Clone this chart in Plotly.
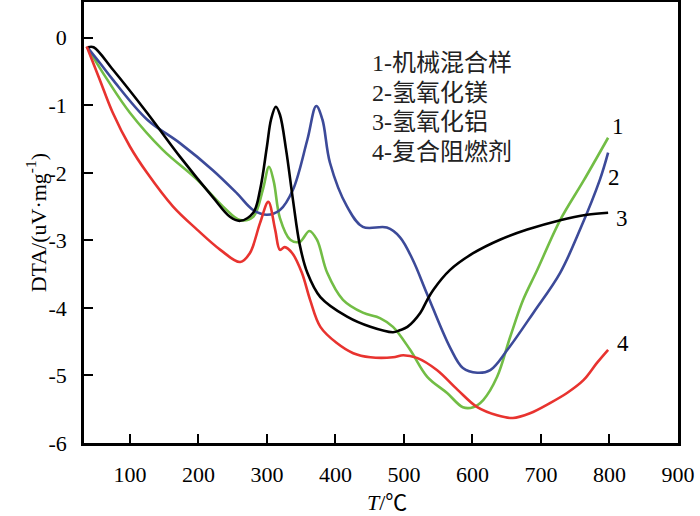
import plotly.graph_objects as go

# curve 1 - 机械混合样 (green)
t1 = [37, 67, 100, 148, 198, 236, 261, 280, 294, 303, 310, 319, 334, 348, 362, 373, 388, 411,
      440, 465, 484, 509, 534, 563, 586, 601, 616, 636, 655, 674, 694, 728, 762, 798]
d1 = [-0.13, -0.62, -1.11, -1.66, -2.10, -2.50, -2.70, -2.65, -2.25, -1.91, -2.13, -2.67, -2.99,
      -3.02, -2.86, -2.99, -3.48, -3.88, -4.07, -4.15, -4.28, -4.62, -5.02, -5.26, -5.47, -5.47,
      -5.36, -5.02, -4.43, -3.88, -3.45, -2.70, -2.12, -1.48]

# curve 2 - 氢氧化镁 (blue)
t2 = [37, 56, 75, 125, 173, 221, 256, 280, 300, 319, 338, 359, 372, 381, 392, 417, 440, 475,
      494, 513, 534, 567, 586, 607, 626, 651, 689, 728, 757, 786, 798]
d2 = [-0.13, -0.37, -0.62, -1.21, -1.56, -1.96, -2.30, -2.55, -2.62, -2.55, -2.25, -1.51, -1.01,
      -1.21, -1.85, -2.50, -2.80, -2.81, -2.95, -3.29, -3.80, -4.58, -4.89, -4.96, -4.92,
      -4.62, -4.07, -3.48, -2.84, -2.10, -1.70]

# curve 3 - 氢氧化铝 (black)
t3 = [39, 47, 75, 125, 173, 221, 246, 261, 280, 290, 300, 306, 313, 319, 328, 338, 348,
      359, 378, 417, 451, 484, 494, 505, 524, 534, 543, 567, 601, 640, 680, 728, 767, 798]
d3 = [-0.14, -0.14, -0.47, -1.11, -1.76, -2.36, -2.65, -2.71, -2.59, -2.25, -1.61, -1.21,
      -1.02, -1.14, -1.66, -2.40, -3.07, -3.48, -3.84, -4.13, -4.28, -4.36, -4.33, -4.28, -4.07,
      -3.88, -3.73, -3.44, -3.19, -2.99, -2.84, -2.70, -2.62, -2.59]

# curve 4 - 复合阻燃剂 (red)
t4 = [37, 56, 75, 100, 125, 163, 198, 232, 261, 275, 290, 302, 312, 319, 326, 337, 351, 363,
      378, 402, 426, 451, 484, 499, 519, 548, 578, 607, 636, 659, 684, 713, 738, 762, 782, 798]
d4 = [-0.13, -0.62, -1.11, -1.61, -2.00, -2.50, -2.84, -3.14, -3.32, -3.19, -2.74, -2.43, -2.84,
      -3.14, -3.10, -3.19, -3.48, -3.88, -4.28, -4.52, -4.67, -4.73, -4.73, -4.70, -4.74, -4.92,
      -5.21, -5.47, -5.59, -5.63, -5.56, -5.41, -5.26, -5.07, -4.81, -4.62]

legend_lines = ["1-机械混合样", "2-氢氧化镁", "3-氢氧化铝", "4-复合阻燃剂"]
curve_labels = ["1", "2", "3", "4"]

x_ticks = [100, 200, 300, 400, 500, 600, 700, 800, 900]
y_ticks = [0, -1, -2, -3, -4, -5, -6]

FONT = "Liberation Serif, Times New Roman, Noto Sans CJK SC"

fig = go.Figure()
for t, d, c in [(t1, d1, "#72bd45"), (t2, d2, "#3c4a99"), (t3, d3, "#000000"), (t4, d4, "#e8332f")]:
    fig.add_trace(go.Scatter(x=t, y=d, mode="lines", line=dict(color=c, width=2.6, shape="spline"),
                             showlegend=False, hoverinfo="skip"))

annotations = []
# legend block (plain text in the plot)
for i, txt in enumerate(legend_lines):
    annotations.append(dict(x=451, y=-0.37 - 0.44 * i, xref="x", yref="y", text=txt,
                            xanchor="left", yanchor="middle", showarrow=False,
                            font=dict(size=24, color="#222", family=FONT)))

# numbers at the curve ends
for txt, (lx, ly) in zip(curve_labels, [(813, -1.32), (807, -2.07), (818, -2.67), (820, -4.52)]):
    annotations.append(dict(x=lx, y=ly, xref="x", yref="y", text=txt, showarrow=False,
                            font=dict(size=23, color="black", family=FONT)))

annotations.append(dict(x=475, y=-0.136, xref="x", yref="paper", text="<i>T</i>/℃",
                        showarrow=False, yanchor="middle",
                        font=dict(size=22, color="black", family=FONT)))
annotations.append(dict(x=-0.108, y=0.5, xref="paper", yref="paper",
                        text="DTA/(uV·mg<sup>-1</sup>)", textangle=-90, showarrow=False,
                        font=dict(size=22, color="black", family=FONT)))

fig.update_layout(
    width=700, height=516,
    margin=dict(l=84, r=22, t=2, b=73, autoexpand=False),
    paper_bgcolor="white", plot_bgcolor="white",
    font=dict(family=FONT, size=22, color="black"),
    annotations=annotations,
)
fig.update_xaxes(range=[33, 900], tickvals=x_ticks, ticktext=[str(v) for v in x_ticks],
                 ticks="inside", ticklen=9, tickwidth=2, tickcolor="black",
                 showline=True, linecolor="black", linewidth=2.5, mirror=True,
                 showgrid=False, zeroline=False, ticklabelstandoff=10)
fig.update_yaxes(range=[-6, 0.53], tickvals=y_ticks, ticktext=[str(v) for v in y_ticks],
                 ticks="inside", ticklen=9, tickwidth=2, tickcolor="black",
                 showline=True, linecolor="black", linewidth=2.5, mirror=True,
                 showgrid=False, zeroline=False, ticklabelstandoff=10)

# drop the default page margin so the 700x516 figure fills the window
fig.write_html("out.html", config={"displayModeBar": False},
               post_script="document.body.style.margin='0';")
